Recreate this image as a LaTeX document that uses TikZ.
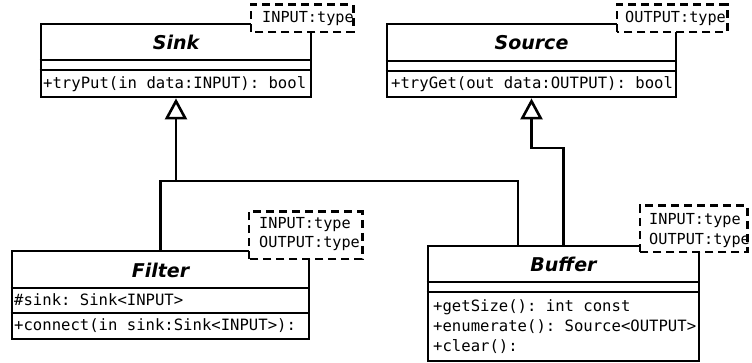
\documentclass[tikz,border=0pt]{standalone}
\usepackage{fontspec}
\setmonofont{DejaVu Sans Mono}
\newfontfamily\titlefam{DejaVu Sans}
\usetikzlibrary{arrows.meta}

\tikzset{
  classbox/.style={draw=black, line width=2.8pt, fill=white, inner sep=0pt},
  tmplfill/.style={fill=white, inner sep=0pt},
  tmplborder/.style={draw=black, line width=2.6pt, dash pattern=on 8pt off 5pt},
  classtitle/.style={inner sep=0pt, font=\titlefam\bfseries\itshape\fontsize{19}{22}\selectfont},
  member/.style={inner sep=0pt, anchor=west, font=\ttfamily\fontsize{15.6}{18}\selectfont},
  tmpltext/.style={inner sep=0pt, anchor=west, font=\ttfamily\fontsize{15.2}{18}\selectfont},
  sepline/.style={line width=2.8pt},
  conn/.style={line width=2.8pt},
  generalize/.style={conn, -{Triangle[length=21pt, width=22pt, fill=white, line width=2.6pt]}},
}

\begin{document}
\begin{tikzpicture}[x=1pt, y=-1pt]
\useasboundingbox (0,0) rectangle (752,363);

% ---------- class boxes ----------
\node[classbox, minimum width=270pt, minimum height=73pt] (sink) at (176,60.5) {};
\node[classbox, minimum width=289pt, minimum height=73pt] (source) at (531.5,60.5) {};
\node[classbox, minimum width=297pt, minimum height=88pt] (filter) at (160.5,295) {};
\node[classbox, minimum width=271pt, minimum height=115pt] (buffer) at (563.5,303.5) {};

% compartment separators
\draw[sepline] (sink.west |- 0,60) -- (sink.east |- 0,60);
\draw[sepline] (sink.west |- 0,70) -- (sink.east |- 0,70);
\draw[sepline] (source.west |- 0,61) -- (source.east |- 0,61);
\draw[sepline] (source.west |- 0,71) -- (source.east |- 0,71);
\draw[sepline] (filter.west |- 0,288) -- (filter.east |- 0,288);
\draw[sepline] (filter.west |- 0,313) -- (filter.east |- 0,313);
\draw[sepline] (buffer.west |- 0,282) -- (buffer.east |- 0,282);
\draw[sepline] (buffer.west |- 0,292) -- (buffer.east |- 0,292);

% class names
\node[classtitle] (sinkname) at (176,42) {Sink};
\node[classtitle] (sourcename) at (531.5,43) {Source};
\node[classtitle] (filtername) at (160.5,270) {Filter};
\node[classtitle] (buffername) at (563.5,264) {Buffer};

% members
\node[member] (sinkop) at (43,84) {+tryPut(in data:INPUT): bool};
\node[member] (sourceop) at (391,84) {+tryGet(out data:OUTPUT): bool};
\node[member] (filterattr) at (14,300) {\#sink: Sink<INPUT>};
\node[member] (filterop) at (14,326) {+connect(in sink:Sink<INPUT>):};
\node[member] (bufop1) at (433,307) {+getSize(): int const};
\node[member] (bufop2) at (433,327) {+enumerate(): Source<OUTPUT>};
\node[member] (bufop3) at (433,347) {+clear():};

% ---------- template parameter boxes ----------
\node[tmplfill, minimum width=102pt, minimum height=27pt] (sinkT) at (302,18.5) {};
\node[tmpltext] (sinkTa) at (262,18.5) {INPUT:type};
\draw[tmplborder] (sinkT.south west) rectangle (sinkT.north east);

\node[tmplfill, minimum width=110pt, minimum height=27pt] (sourceT) at (672,18.5) {};
\node[tmpltext] (sourceTa) at (625,18.5) {OUTPUT:type};
\draw[tmplborder] (sourceT.south west) rectangle (sourceT.north east);

\node[tmplfill, minimum width=113pt, minimum height=47pt] (filterT) at (305.5,235.5) {};
\node[tmpltext] (filterTa) at (259,225) {INPUT:type};
\node[tmpltext] (filterTb) at (259,243) {OUTPUT:type};
\draw[tmplborder] (filterT.south west) rectangle (filterT.north east);

\node[tmplfill, minimum width=107pt, minimum height=46pt] (bufferT) at (693.5,229) {};
\node[tmpltext] (bufferTa) at (649,221) {INPUT:type};
\node[tmpltext] (bufferTb) at (649,240) {OUTPUT:type};
\draw[tmplborder] (bufferT.south west) rectangle (bufferT.north east);

% ---------- generalization connectors ----------
\coordinate (sinkjoin) at (176,181);
\coordinate (bufsink) at (518,246);
\coordinate (srcbend) at (531.5,148);

\draw[conn] (filter.north) |- (sinkjoin);
\draw[conn] (sinkjoin) -| (bufsink);
\draw[generalize] (sinkjoin) -- (sink.south);
\draw[generalize] (buffer.north) |- (srcbend) -- (source.south);
\end{tikzpicture}
\end{document}
